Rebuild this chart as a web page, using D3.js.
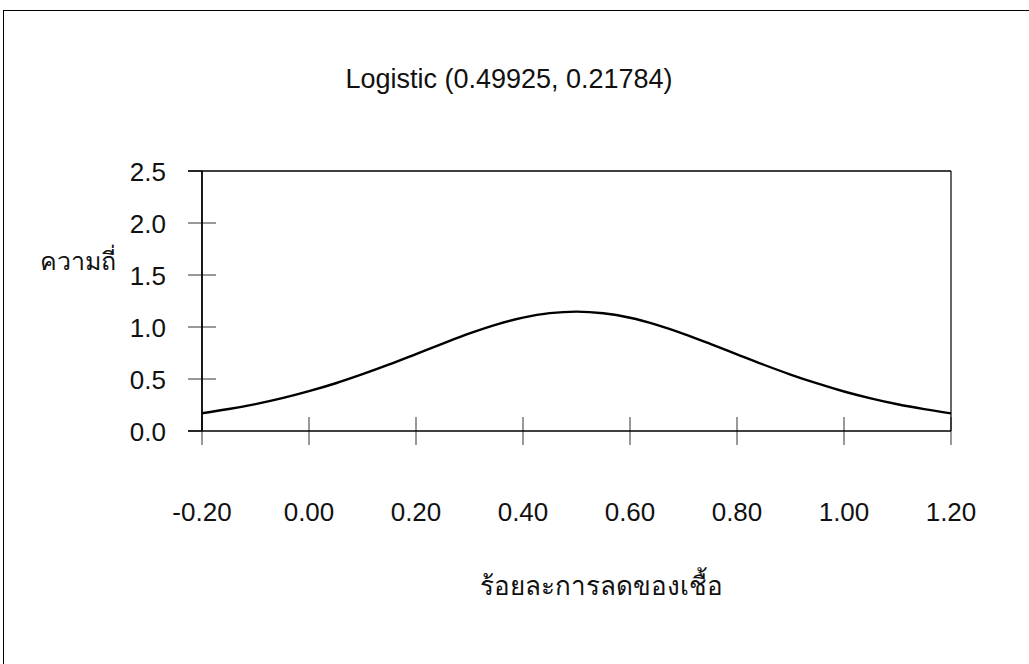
<!DOCTYPE html>
<html><head><meta charset="utf-8">
<script src="https://cdn.jsdelivr.net/npm/d3@7"></script>
<style>body{margin:0;background:#fff}svg{display:block}text{font-family:"Liberation Sans",Arial,sans-serif;fill:#111}</style>
</head><body><svg id="c" width="1029" height="664"></svg>
<script>
const title = "Logistic (0.49925, 0.21784)";
const xLabel = "ร้อยละการลดของเชื้อ";
const yLabel = "ความถี่";
const xTicks = [-0.2, 0, 0.2, 0.4, 0.6, 0.8, 1.0, 1.2];
const yTicks = [0, 0.5, 1.0, 1.5, 2.0, 2.5];
const xs = [-0.2,-0.15,-0.1,-0.05,0,0.05,0.1,0.15,0.2,0.25,0.3,0.35,0.4,0.45,0.5,0.55,0.6,0.65,0.7,0.75,0.8,0.85,0.9,0.95,1.0,1.05,1.1,1.15,1.2];
const ys = [0.171,0.211,0.259,0.316,0.383,0.459,0.546,0.640,0.740,0.841,0.938,1.023,1.090,1.133,1.148,1.132,1.089,1.021,0.935,0.838,0.737,0.637,0.543,0.457,0.380,0.314,0.257,0.210,0.170];

const svg = d3.select("#c");
svg.append("rect").attr("x",3.5).attr("y",10.5).attr("width",1030).attr("height",700).attr("fill","none").attr("stroke","#000").attr("stroke-width",1);

const x = d3.scaleLinear().domain([-0.2,1.2]).range([202,951]);
const y = d3.scaleLinear().domain([0,2.5]).range([431,171]);
const fmtX = d => d3.format(".2f")(d).replace("\u2212","-");

svg.append("text").attr("x",509).attr("y",88).attr("text-anchor","middle").attr("font-size",27).text(title);

const g = svg.append("g");
g.selectAll(".yt").data(yTicks).enter().append("line")
 .attr("x1",188).attr("x2",d=>d===0||d===2.5?202:216).attr("y1",d=>y(d)).attr("y2",d=>y(d)).attr("stroke","#555").attr("stroke-width",1.2);
g.selectAll(".yl").data(yTicks).enter().append("text")
 .attr("x",166).attr("y",d=>y(d)+10).attr("text-anchor","end").attr("font-size",26).text(d=>d3.format(".1f")(d));
g.selectAll(".xt").data(xTicks).enter().append("line")
 .attr("x1",d=>x(d)).attr("x2",d=>x(d)).attr("y1",417).attr("y2",445).attr("stroke","#555").attr("stroke-width",1.2);
g.selectAll(".xl").data(xTicks).enter().append("text")
 .attr("x",d=>x(d)).attr("y",521).attr("text-anchor","middle").attr("font-size",26).text(fmtX);
g.append("line").attr("x1",188).attr("x2",951).attr("y1",y(0)).attr("y2",y(0)).attr("stroke","#000").attr("stroke-width",1.5);
g.append("line").attr("x1",188).attr("x2",951).attr("y1",y(2.5)).attr("y2",y(2.5)).attr("stroke","#000").attr("stroke-width",1.5);
g.append("line").attr("x1",202).attr("x2",202).attr("y1",y(2.5)).attr("y2",y(0)).attr("stroke","#000").attr("stroke-width",1.8);
g.append("line").attr("x1",951).attr("x2",951).attr("y1",y(2.5)).attr("y2",y(0)).attr("stroke","#000").attr("stroke-width",1.2);

const line = d3.line().x((d,i)=>x(xs[i])).y(d=>y(d)).curve(d3.curveMonotoneX);
g.append("path").datum(ys).attr("d",line).attr("fill","none").attr("stroke","#000").attr("stroke-width",2.4);

svg.append("text").attr("x",116).attr("y",270).attr("text-anchor","end").attr("font-size",25).text(yLabel);
svg.append("text").attr("x",601).attr("y",595).attr("text-anchor","middle").attr("font-size",26).text(xLabel);
</script></body></html>
